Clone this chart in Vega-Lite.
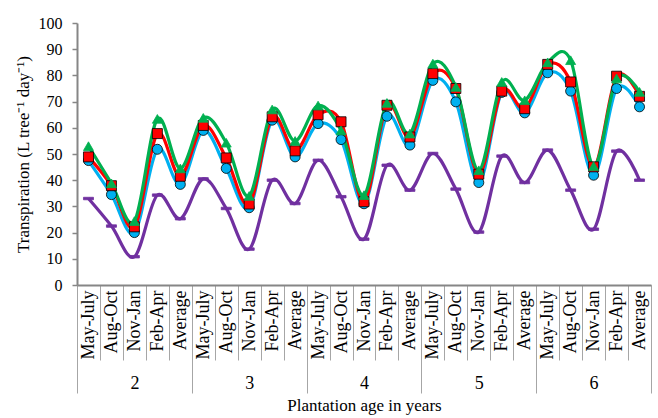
{
  "$schema": "https://vega.github.io/schema/vega-lite/v6.json",
  "width": 574,
  "height": 262,
  "autosize": {"type": "none"},
  "padding": {"left": 77, "top": 23, "right": 7, "bottom": 133},
  "background": "white",
  "config": {"view": {"stroke": null}, "font": "Liberation Serif", "axis": {"grid": false}},
  "data": {"values": [
    {"series":"1m×1m","year":2,"period":"May-July","idx":1,"value":47.5},
    {"series":"1m×1m","year":2,"period":"Aug-Oct","idx":2,"value":34.5},
    {"series":"1m×1m","year":2,"period":"Nov-Jan","idx":3,"value":20},
    {"series":"1m×1m","year":2,"period":"Feb-Apr","idx":4,"value":51.8},
    {"series":"1m×1m","year":2,"period":"Average","idx":5,"value":38.4},
    {"series":"1m×1m","year":3,"period":"May-July","idx":6,"value":59},
    {"series":"1m×1m","year":3,"period":"Aug-Oct","idx":7,"value":44.5},
    {"series":"1m×1m","year":3,"period":"Nov-Jan","idx":8,"value":29.5},
    {"series":"1m×1m","year":3,"period":"Feb-Apr","idx":9,"value":62.9},
    {"series":"1m×1m","year":3,"period":"Average","idx":10,"value":48.9},
    {"series":"1m×1m","year":4,"period":"May-July","idx":11,"value":61.6},
    {"series":"1m×1m","year":4,"period":"Aug-Oct","idx":12,"value":55.5},
    {"series":"1m×1m","year":4,"period":"Nov-Jan","idx":13,"value":31},
    {"series":"1m×1m","year":4,"period":"Feb-Apr","idx":14,"value":64.4},
    {"series":"1m×1m","year":4,"period":"Average","idx":15,"value":53.4},
    {"series":"1m×1m","year":5,"period":"May-July","idx":16,"value":78.1},
    {"series":"1m×1m","year":5,"period":"Aug-Oct","idx":17,"value":69.9},
    {"series":"1m×1m","year":5,"period":"Nov-Jan","idx":18,"value":39.1},
    {"series":"1m×1m","year":5,"period":"Feb-Apr","idx":19,"value":73.5},
    {"series":"1m×1m","year":5,"period":"Average","idx":20,"value":65.7},
    {"series":"1m×1m","year":6,"period":"May-July","idx":21,"value":81},
    {"series":"1m×1m","year":6,"period":"Aug-Oct","idx":22,"value":74},
    {"series":"1m×1m","year":6,"period":"Nov-Jan","idx":23,"value":41.9},
    {"series":"1m×1m","year":6,"period":"Feb-Apr","idx":24,"value":75},
    {"series":"1m×1m","year":6,"period":"Average","idx":25,"value":68},
    {"series":"1m×2m","year":2,"period":"May-July","idx":1,"value":48.9},
    {"series":"1m×2m","year":2,"period":"Aug-Oct","idx":2,"value":37.9},
    {"series":"1m×2m","year":2,"period":"Nov-Jan","idx":3,"value":22.2},
    {"series":"1m×2m","year":2,"period":"Feb-Apr","idx":4,"value":57.8},
    {"series":"1m×2m","year":2,"period":"Average","idx":5,"value":41.5},
    {"series":"1m×2m","year":3,"period":"May-July","idx":6,"value":60.9},
    {"series":"1m×2m","year":3,"period":"Aug-Oct","idx":7,"value":48.5},
    {"series":"1m×2m","year":3,"period":"Nov-Jan","idx":8,"value":30.9},
    {"series":"1m×2m","year":3,"period":"Feb-Apr","idx":9,"value":64.2},
    {"series":"1m×2m","year":3,"period":"Average","idx":10,"value":51.2},
    {"series":"1m×2m","year":4,"period":"May-July","idx":11,"value":65},
    {"series":"1m×2m","year":4,"period":"Aug-Oct","idx":12,"value":62.3},
    {"series":"1m×2m","year":4,"period":"Nov-Jan","idx":13,"value":31.8},
    {"series":"1m×2m","year":4,"period":"Feb-Apr","idx":14,"value":68.6},
    {"series":"1m×2m","year":4,"period":"Average","idx":15,"value":56.5},
    {"series":"1m×2m","year":5,"period":"May-July","idx":16,"value":80.7},
    {"series":"1m×2m","year":5,"period":"Aug-Oct","idx":17,"value":75},
    {"series":"1m×2m","year":5,"period":"Nov-Jan","idx":18,"value":42.3},
    {"series":"1m×2m","year":5,"period":"Feb-Apr","idx":19,"value":74},
    {"series":"1m×2m","year":5,"period":"Average","idx":20,"value":67.3},
    {"series":"1m×2m","year":6,"period":"May-July","idx":21,"value":84.2},
    {"series":"1m×2m","year":6,"period":"Aug-Oct","idx":22,"value":77.5},
    {"series":"1m×2m","year":6,"period":"Nov-Jan","idx":23,"value":45.1},
    {"series":"1m×2m","year":6,"period":"Feb-Apr","idx":24,"value":79.7},
    {"series":"1m×2m","year":6,"period":"Average","idx":25,"value":72},
    {"series":"1m×3m","year":2,"period":"May-July","idx":1,"value":53},
    {"series":"1m×3m","year":2,"period":"Aug-Oct","idx":2,"value":38.8},
    {"series":"1m×3m","year":2,"period":"Nov-Jan","idx":3,"value":24.4},
    {"series":"1m×3m","year":2,"period":"Feb-Apr","idx":4,"value":63.4},
    {"series":"1m×3m","year":2,"period":"Average","idx":5,"value":44.5},
    {"series":"1m×3m","year":3,"period":"May-July","idx":6,"value":63.8},
    {"series":"1m×3m","year":3,"period":"Aug-Oct","idx":7,"value":54.3},
    {"series":"1m×3m","year":3,"period":"Nov-Jan","idx":8,"value":34},
    {"series":"1m×3m","year":3,"period":"Feb-Apr","idx":9,"value":67},
    {"series":"1m×3m","year":3,"period":"Average","idx":10,"value":55},
    {"series":"1m×3m","year":4,"period":"May-July","idx":11,"value":68.5},
    {"series":"1m×3m","year":4,"period":"Aug-Oct","idx":12,"value":59},
    {"series":"1m×3m","year":4,"period":"Nov-Jan","idx":13,"value":34.3},
    {"series":"1m×3m","year":4,"period":"Feb-Apr","idx":14,"value":69.5},
    {"series":"1m×3m","year":4,"period":"Average","idx":15,"value":57.8},
    {"series":"1m×3m","year":5,"period":"May-July","idx":16,"value":84.5},
    {"series":"1m×3m","year":5,"period":"Aug-Oct","idx":17,"value":75.6},
    {"series":"1m×3m","year":5,"period":"Nov-Jan","idx":18,"value":43.8},
    {"series":"1m×3m","year":5,"period":"Feb-Apr","idx":19,"value":77.5},
    {"series":"1m×3m","year":5,"period":"Average","idx":20,"value":70.5},
    {"series":"1m×3m","year":6,"period":"May-July","idx":21,"value":85},
    {"series":"1m×3m","year":6,"period":"Aug-Oct","idx":22,"value":85.8},
    {"series":"1m×3m","year":6,"period":"Nov-Jan","idx":23,"value":45.4},
    {"series":"1m×3m","year":6,"period":"Feb-Apr","idx":24,"value":78.8},
    {"series":"1m×3m","year":6,"period":"Average","idx":25,"value":73.7},
    {"series":"BP (2m×4m)","year":2,"period":"May-July","idx":1,"value":33},
    {"series":"BP (2m×4m)","year":2,"period":"Aug-Oct","idx":2,"value":22.5},
    {"series":"BP (2m×4m)","year":2,"period":"Nov-Jan","idx":3,"value":10.8},
    {"series":"BP (2m×4m)","year":2,"period":"Feb-Apr","idx":4,"value":34.3},
    {"series":"BP (2m×4m)","year":2,"period":"Average","idx":5,"value":25.3},
    {"series":"BP (2m×4m)","year":3,"period":"May-July","idx":6,"value":40.5},
    {"series":"BP (2m×4m)","year":3,"period":"Aug-Oct","idx":7,"value":29.2},
    {"series":"BP (2m×4m)","year":3,"period":"Nov-Jan","idx":8,"value":13.7},
    {"series":"BP (2m×4m)","year":3,"period":"Feb-Apr","idx":9,"value":40},
    {"series":"BP (2m×4m)","year":3,"period":"Average","idx":10,"value":31.1},
    {"series":"BP (2m×4m)","year":4,"period":"May-July","idx":11,"value":47.6},
    {"series":"BP (2m×4m)","year":4,"period":"Aug-Oct","idx":12,"value":33.7},
    {"series":"BP (2m×4m)","year":4,"period":"Nov-Jan","idx":13,"value":17.5},
    {"series":"BP (2m×4m)","year":4,"period":"Feb-Apr","idx":14,"value":45.7},
    {"series":"BP (2m×4m)","year":4,"period":"Average","idx":15,"value":36.2},
    {"series":"BP (2m×4m)","year":5,"period":"May-July","idx":16,"value":50.2},
    {"series":"BP (2m×4m)","year":5,"period":"Aug-Oct","idx":17,"value":36.6},
    {"series":"BP (2m×4m)","year":5,"period":"Nov-Jan","idx":18,"value":20.2},
    {"series":"BP (2m×4m)","year":5,"period":"Feb-Apr","idx":19,"value":49.2},
    {"series":"BP (2m×4m)","year":5,"period":"Average","idx":20,"value":39.1},
    {"series":"BP (2m×4m)","year":6,"period":"May-July","idx":21,"value":51.5},
    {"series":"BP (2m×4m)","year":6,"period":"Aug-Oct","idx":22,"value":36.2},
    {"series":"BP (2m×4m)","year":6,"period":"Nov-Jan","idx":23,"value":21.3},
    {"series":"BP (2m×4m)","year":6,"period":"Feb-Apr","idx":24,"value":51.1},
    {"series":"BP (2m×4m)","year":6,"period":"Average","idx":25,"value":40}
  ]},
  "resolve": {"scale": {"x": "independent"}, "axis": {"x": "independent"}},
  "layer": [
    {
      "mark": {"type": "point", "opacity": 0},
      "encoding": {
        "x": {"field": "idx", "type": "quantitative", "scale": {"domain": [0.5, 25.5], "nice": false, "zero": false},
          "axis": {"orient": "bottom", "values": [0.5,1.5,2.5,3.5,4.5,5.5,6.5,7.5,8.5,9.5,10.5,11.5,12.5,13.5,14.5,15.5,16.5,17.5,18.5,19.5,20.5,21.5,22.5,23.5,24.5,25.5],
            "labels": false, "domain": false, "ticks": true, "tickSize": 75, "tickColor": "#A6A6A6", "tickWidth": 1, "title": null}}
      }
    },
    {
      "mark": {"type": "point", "opacity": 0},
      "encoding": {
        "x": {"field": "idx", "type": "quantitative", "scale": {"domain": [0.5, 25.5], "nice": false, "zero": false},
          "axis": {"orient": "bottom", "values": [0.5,5.5,10.5,15.5,20.5,25.5],
            "labels": false, "domain": false, "ticks": true, "tickSize": 108, "tickColor": "#A6A6A6", "tickWidth": 1, "title": null}}
      }
    },
    {
      "mark": {"type": "point", "opacity": 0},
      "encoding": {
        "x": {"field": "idx", "type": "quantitative", "scale": {"domain": [0.5, 25.5], "nice": false, "zero": false},
          "axis": {"orient": "bottom", "values": [3,8,13,18,23],
            "labelExpr": "'' + (2 + (datum.value - 3) / 5)",
            "labels": true, "domain": false, "ticks": false, "tickSize": 0,
            "labelPadding": 98, "labelBaseline": "middle", "labelFontSize": 18, "labelColor": "#000", "labelFont": "Liberation Serif",
            "title": "Plantation age in years", "titleFontSize": 17, "titleFontWeight": "normal", "titleColor": "#000", "titleFont": "Liberation Serif", "titlePadding": 5}}
      }
    },
    {
      "layer": [
        {
          "mark": {"type": "line", "interpolate": "cardinal", "strokeWidth": 3.2},
          "encoding": {
            "x": {"field": "idx", "type": "quantitative"},
            "y": {"field": "value", "type": "quantitative"},
            "color": {"field": "series", "type": "nominal", "legend": null,
              "scale": {"domain": ["1m×1m","1m×2m","1m×3m","BP (2m×4m)"], "range": ["#00B0F0","#FF0000","#00B050","#7030A0"]}}
          }
        },
        {
          "mark": {"type": "point", "filled": true, "opacity": 1, "strokeWidth": 0.8},
          "encoding": {
            "x": {"field": "idx", "type": "quantitative"},
            "y": {"field": "value", "type": "quantitative"},
            "fill": {"field": "series", "type": "nominal",
              "scale": {"domain": ["1m×1m","1m×2m","1m×3m","BP (2m×4m)"], "range": ["#00B0F0","#FF0000","#00B050","#7030A0"]},
              "legend": {
                "orient": "none", "legendX": 22, "legendY": -19, "direction": "horizontal", "columns": 4,
                "title": null, "padding": 0, "symbolSize": 900, "symbolStrokeWidth": 0, "labelOffset": 3, "columnPadding": 36,
                "labelFont": "Liberation Serif", "labelFontSize": 17, "labelColor": "#000", "labelLimit": 200,
                "encode": {"symbols": {"update": {
                  "shape": {"signal": "datum.value === '1m×1m' ? 'M-1,-0.1H1V0.1H-1Z M0.27,0A0.27,0.27,0,1,1,-0.27,0A0.27,0.27,0,1,1,0.27,0Z' : datum.value === '1m×2m' ? 'M-1,-0.1H1V0.1H-1Z M-0.27,-0.27H0.27V0.27H-0.27Z' : datum.value === '1m×3m' ? 'M-1,-0.1H1V0.1H-1Z M0,-0.32L0.34,0.26L-0.34,0.26Z' : 'M-1,-0.1H1V0.1H-1Z'"},
                  "strokeWidth": {"value": 0}
                }}}
              }},
            "shape": {"field": "series", "type": "nominal",
              "scale": {"domain": ["1m×1m","1m×2m","1m×3m","BP (2m×4m)"], "range": ["circle","square","triangle-up","M-1,-0.25H1V0.25H-1Z"]}},
            "stroke": {"field": "series", "type": "nominal", "legend": null,
              "scale": {"domain": ["1m×1m","1m×2m","1m×3m","BP (2m×4m)"], "range": ["#000000","#000000","#00B050","#7030A0"]}},
            "size": {"field": "series", "type": "nominal", "legend": null,
              "scale": {"domain": ["1m×1m","1m×2m","1m×3m","BP (2m×4m)"], "range": [100, 100, 140, 81]}}
          }
        }
      ],
      "encoding": {
        "x": {"field": "idx", "type": "quantitative", "scale": {"domain": [0.5, 25.5], "nice": false, "zero": false},
          "axis": {"orient": "bottom", "values": [1,2,3,4,5,6,7,8,9,10,11,12,13,14,15,16,17,18,19,20,21,22,23,24,25],
            "labelExpr": "['May-July','Aug-Oct','Nov-Jan','Feb-Apr','Average'][(datum.value - 1) % 5]",
            "labelAngle": 270, "labelAlign": "right", "labelBaseline": "middle", "labelPadding": 5,
            "ticks": false, "tickSize": 0, "domain": true, "domainColor": "#868686", "domainWidth": 2,
            "labelFont": "Liberation Serif", "labelFontSize": 18, "labelColor": "#000", "title": null, "labelOverlap": false, "labelBound": false, "labelFlush": false}},
        "y": {"field": "value", "type": "quantitative", "scale": {"domain": [0, 100], "nice": false},
          "axis": {"values": [0,10,20,30,40,50,60,70,80,90,100], "domainColor": "#868686", "domainWidth": 2, "tickColor": "#868686", "tickSize": 5, "tickWidth": 1.5,
            "labelPadding": 10, "labelFont": "Liberation Serif", "labelFontSize": 16, "labelColor": "#000",
            "title": "Transpiration (L tree⁻¹ day⁻¹)", "titleFont": "Liberation Serif", "titleFontSize": 17, "titleFontWeight": "normal", "titleColor": "#000", "titlePadding": 6}}
      }
    }
  ]
}
